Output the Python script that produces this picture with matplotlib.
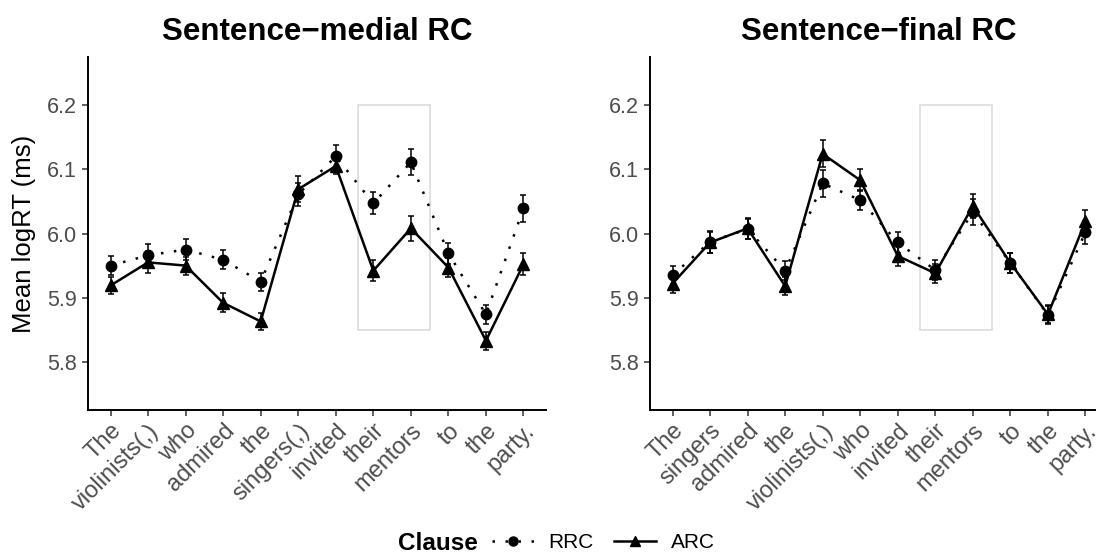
import matplotlib.pyplot as plt
from matplotlib.lines import Line2D
from matplotlib.patches import Rectangle
from matplotlib.transforms import ScaledTranslation

plt.rcParams['font.family'] = ['Liberation Sans', 'DejaVu Sans']

# word positions
medial_words = ['The', 'violinists(,)', 'who', 'admired', 'the', 'singers(,)',
                'invited', 'their', 'mentors', 'to', 'the', 'party.']
final_words = ['The', 'singers', 'admired', 'the', 'violinists(,)', 'who',
               'invited', 'their', 'mentors', 'to', 'the', 'party.']

# sentence-medial RC
medial_rrc = [5.950, 5.966, 5.975, 5.959, 5.925, 6.061, 6.120, 6.047, 6.111, 5.969, 5.874, 6.039]
medial_rrc_se = [0.015, 0.017, 0.017, 0.015, 0.014, 0.018, 0.018, 0.017, 0.020, 0.016, 0.015, 0.021]
medial_arc = [5.919, 5.955, 5.950, 5.892, 5.863, 6.069, 6.105, 5.942, 6.008, 5.947, 5.833, 5.952]
medial_arc_se = [0.014, 0.017, 0.014, 0.015, 0.013, 0.020, 0.013, 0.016, 0.019, 0.015, 0.014, 0.017]

# sentence-final RC
final_rrc = [5.935, 5.987, 6.007, 5.942, 6.078, 6.052, 5.986, 5.943, 6.033, 5.954, 5.873, 6.002]
final_rrc_se = [0.015, 0.017, 0.016, 0.015, 0.021, 0.016, 0.016, 0.015, 0.020, 0.015, 0.014, 0.018]
final_arc = [5.922, 5.986, 6.008, 5.918, 6.124, 6.083, 5.965, 5.938, 6.043, 5.954, 5.874, 6.019]
final_arc_se = [0.014, 0.017, 0.016, 0.014, 0.021, 0.017, 0.016, 0.015, 0.019, 0.015, 0.014, 0.017]

W, H = 1096, 554
fig = plt.figure(figsize=(W / 100, H / 100), dpi=100)

grey_text = '#4D4D4D'
dotted = (0, (1, 4.2))


def panel(left_px, title, words, rrc, rrc_se, arc, arc_se, ylab=None):
    ax = fig.add_axes([left_px / W, (H - 410) / H, 458 / W, 353 / H])
    x = list(range(1, len(words) + 1))

    # highlighted region
    ax.add_patch(Rectangle((7.6, 5.85), 1.9, 0.35, fill=False,
                           edgecolor='#D9D9D9', lw=1.1, zorder=1))

    ax.errorbar(x, rrc, yerr=rrc_se, color='black', lw=0, elinewidth=1.1,
                capsize=2, capthick=1.1, fmt='none', zorder=3)
    ax.plot(x, rrc, color='black', lw=1.8, linestyle=dotted,
            marker='o', markersize=7.5, zorder=4)
    ax.errorbar(x, arc, yerr=arc_se, color='black', lw=0, elinewidth=1.1,
                capsize=2, capthick=1.1, fmt='none', zorder=5)
    ax.plot(x, arc, color='black', lw=1.8, linestyle='-',
            marker='^', markersize=8.5, zorder=6)

    ax.set_xlim(0.4, len(words) + 0.6)
    ax.set_ylim(5.725, 6.275)
    ax.set_yticks([5.8, 5.9, 6.0, 6.1, 6.2])
    ax.set_yticklabels(['5.8', '5.9', '6.0', '6.1', '6.2'])
    ax.set_xticks(x)
    ax.set_xticklabels(words, rotation=45, ha='right', va='top',
                       rotation_mode='anchor', fontsize=17)
    shift = ScaledTranslation(8 / 100, -5 / 100, fig.dpi_scale_trans)
    for lab in ax.get_xticklabels():
        lab.set_transform(lab.get_transform() + shift)

    for s in ['top', 'right']:
        ax.spines[s].set_visible(False)
    for s in ['left', 'bottom']:
        ax.spines[s].set_linewidth(1.4)
        ax.spines[s].set_color('black')
    ax.tick_params(axis='both', direction='out', length=4, width=1.1,
                   color='#333333', labelcolor=grey_text)
    ax.tick_params(axis='y', pad=4, labelsize=15.5)
    ax.tick_params(axis='x', pad=3)
    ax.set_title(title, fontsize=22.5, fontweight='bold', pad=12)
    if ylab:
        ax.set_ylabel(ylab, fontsize=18.5, labelpad=8)
    return ax


panel(88, 'Sentence\u2212medial RC', medial_words, medial_rrc, medial_rrc_se,
      medial_arc, medial_arc_se, ylab='Mean logRT (ms)')
panel(650, 'Sentence\u2212final RC', final_words, final_rrc, final_rrc_se,
      final_arc, final_arc_se)

# legend
fig.text(398 / W, 1 - 550 / H, 'Clause', fontsize=17.5, fontweight='bold',
         ha='left', va='baseline')
handles = [
    Line2D([], [], color='black', lw=1.8, linestyle=dotted,
           marker='o', markersize=6.5),
    Line2D([], [], color='black', lw=1.8, linestyle='-',
           marker='^', markersize=7.5),
]
fig.legend(handles, ['RRC', 'ARC'], loc='center left',
           bbox_to_anchor=(492 / W, 1 - 543 / H), ncol=2, frameon=False,
           fontsize=15, handlelength=2.0, handletextpad=0.7,
           columnspacing=1.0, borderaxespad=0, borderpad=0)

fig.savefig('out.png', dpi=100, facecolor='white')
